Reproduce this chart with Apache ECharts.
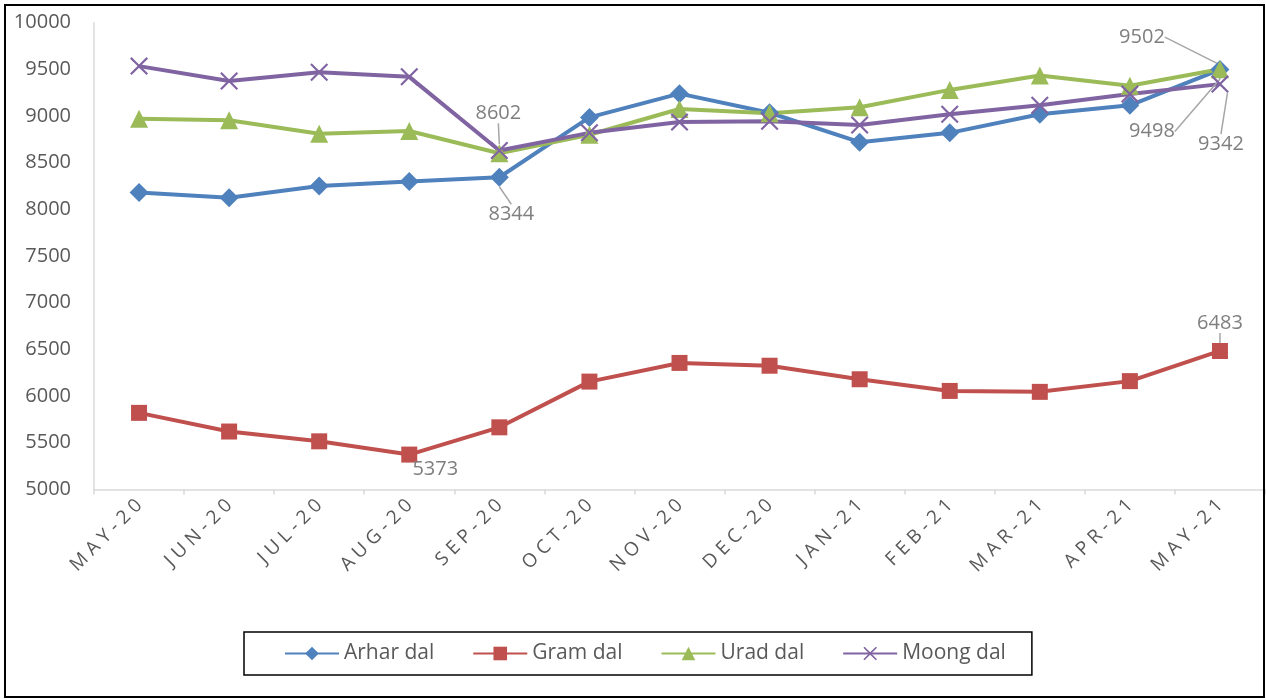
<!DOCTYPE html>
<html>
<head>
<meta charset="utf-8">
<script src="https://cdn.jsdelivr.net/npm/echarts@6/dist/echarts.min.js"></script>
<style>
html,body{margin:0;padding:0;background:#fff;}
#chart{width:1266px;height:700px;}
</style>
</head>
<body>
<div id="chart"></div>
<script>
const categories = ['MAY-20','JUN-20','JUL-20','AUG-20','SEP-20','OCT-20','NOV-20','DEC-20','JAN-21','FEB-21','MAR-21','APR-21','MAY-21'];
const arharDal = [8180, 8125, 8250, 8300, 8344, 8985, 9240, 9035, 8720, 8820, 9020, 9115, 9498];
const gramDal  = [5820, 5620, 5515, 5373, 5665, 6155, 6355, 6325, 6180, 6055, 6045, 6160, 6483];
const uradDal  = [8970, 8955, 8810, 8840, 8602, 8800, 9075, 9030, 9095, 9280, 9435, 9325, 9502];
const moongDal = [9535, 9375, 9470, 9420, 8630, 8820, 8935, 8945, 8905, 9020, 9115, 9235, 9342];
const seriesNames = ['Arhar dal', 'Gram dal', 'Urad dal', 'Moong dal'];
const yTicks = {min: 5000, max: 10000, interval: 500};

// which points carry a data label, and where the label sits relative to its point
const labelSpots = [
  {4: [12, 37, true], 12: [-68, 62, true]},
  {3: [26, 15, false], 12: [0, -28, true]},
  {4: [-1, -40, true], 12: [-78, -32, true]},
  {12: [1, 60, true]}
];

const colors = ['#4F81BD', '#C0504D', '#9BBB59', '#8064A2'];
const xSymbol = 'path://M0,8.5 L8.5,0 L50,41.5 L91.5,0 L100,8.5 L58.5,50 L100,91.5 L91.5,100 L50,58.5 L8.5,100 L0,91.5 L41.5,50 Z';
const symbols = ['diamond', 'rect', 'triangle', xSymbol];
const symbolSizes = [19, 16, 18, 18];
const allData = [arharDal, gramDal, uradDal, moongDal];
const FONT = '"Open Sans", "Noto Sans", sans-serif';

function spaced(s) { return s.split('').join('\u2009\u200A'); }

const chart = echarts.init(document.getElementById('chart'), null, {renderer: 'canvas'});

const series = allData.map((arr, si) => ({
  name: seriesNames[si],
  type: 'line',
  data: arr.map((v, i) => {
    const sp = labelSpots[si][i];
    if (!sp) return v;
    return {
      value: v,
      label: {show: true},
      labelLine: {show: sp[2], lineStyle: {color: '#a6a6a6', width: 1.5}}
    };
  }),
  symbol: symbols[si],
  symbolSize: symbolSizes[si],
  showAllSymbol: true,
  lineStyle: {width: 4, color: colors[si]},
  itemStyle: {color: colors[si]},
  label: {
    show: false,
    position: 'inside',
    color: '#7f7f7f',
    fontFamily: FONT,
    fontSize: 20
  },
  labelLayout: function (p) {
    const sp = labelSpots[p.seriesIndex] && labelSpots[p.seriesIndex][p.dataIndex];
    if (!sp) return {};
    return {dx: sp[0], dy: sp[1]};
  },
  emphasis: {disabled: true},
  animation: false
}));

chart.setOption({
  backgroundColor: '#fff',
  animation: false,
  graphic: [{
    type: 'rect',
    shape: {x: 5, y: 5, width: 1259, height: 692},
    style: {fill: 'none', stroke: '#000', lineWidth: 2},
    silent: true,
    z: 100
  }],
  grid: {left: 94, right: 1, top: 22.7, bottom: 210.6, containLabel: false},
  legend: {
    data: seriesNames,
    top: 632,
    left: 244,
    padding: [11, 26, 11, 40],
    itemGap: 38,
    itemWidth: 54,
    itemHeight: 17,
    borderColor: '#000',
    borderWidth: 1.5,
    textStyle: {color: '#595959', fontFamily: FONT, fontSize: 21}
  },
  xAxis: {
    type: 'category',
    data: categories,
    boundaryGap: true,
    axisLine: {show: true, lineStyle: {color: '#d9d9d9', width: 1.5}},
    axisTick: {show: true, length: 5, lineStyle: {color: '#d9d9d9', width: 1.5}},
    axisLabel: {
      rotate: 45,
      margin: 13,
      interval: 0,
      color: '#595959',
      fontFamily: FONT,
      fontSize: 19,
      formatter: spaced
    },
    splitLine: {show: false}
  },
  yAxis: {
    type: 'value',
    min: yTicks.min,
    max: yTicks.max,
    interval: yTicks.interval,
    axisLine: {show: true, lineStyle: {color: '#d9d9d9', width: 1.5}},
    axisTick: {show: false},
    axisLabel: {color: '#595959', fontFamily: FONT, fontSize: 20, margin: 23, formatter: v => String(v)},
    splitLine: {show: false}
  },
  series: series
});
</script>
</body>
</html>
